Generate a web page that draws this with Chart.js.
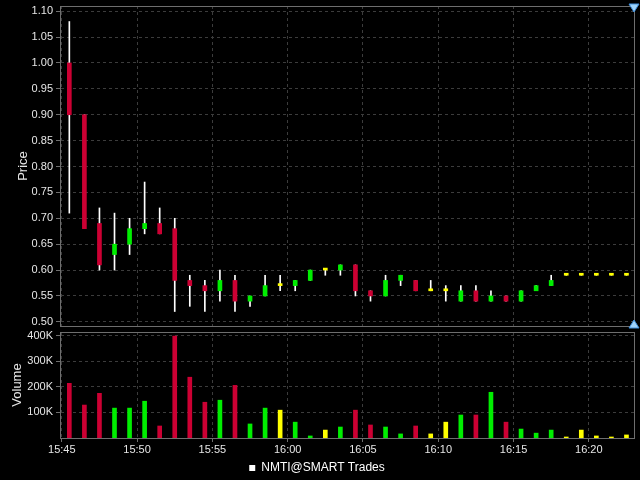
<!DOCTYPE html>
<html>
<head>
<meta charset="utf-8">
<script src="https://cdn.jsdelivr.net/npm/chart.js@4/dist/chart.umd.min.js"></script>
<style>
  html, body { margin: 0; padding: 0; background: #000; overflow: hidden; }
  #wrap { position: relative; width: 640px; height: 480px; background: #000; overflow: hidden; }
  #priceBox { position: absolute; left: 0; top: 0; width: 640px; height: 330px; }
  #volBox { position: absolute; left: 0; top: 330px; width: 640px; height: 154px; }
</style>
</head>
<body>
<div id="wrap">
  <div id="priceBox"><canvas id="priceChart"></canvas></div>
  <div id="volBox"><canvas id="volChart"></canvas></div>
</div>
<script>
// one bar per minute, 15:45 .. 16:22
var times = ['15:45','15:46','15:47','15:48','15:49','15:50','15:51','15:52','15:53','15:54',
             '15:55','15:56','15:57','15:58','15:59','16:00','16:01','16:02','16:03','16:04',
             '16:05','16:06','16:07','16:08','16:09','16:10','16:11','16:12','16:13','16:14',
             '16:15','16:16','16:17','16:18','16:19','16:20','16:21','16:22'];
var opens  = [1.00,0.90,0.69,0.63,0.65,0.68,0.69,0.68,0.58,0.57,
              0.56,0.58,0.54,0.55,0.57,0.57,0.58,0.60,0.60,0.61,
              0.56,0.55,0.58,0.58,0.56,0.56,0.54,0.56,0.54,0.55,
              0.54,0.56,0.57,0.59,0.59,0.59,0.59,0.59];
var highs  = [1.08,0.90,0.72,0.71,0.70,0.77,0.72,0.70,0.59,0.58,
              0.60,0.59,0.55,0.59,0.59,0.58,0.60,0.60,0.61,0.61,
              0.56,0.59,0.59,0.58,0.58,0.57,0.57,0.57,0.56,0.55,
              0.56,0.57,0.59,0.59,0.59,0.59,0.59,0.59];
var lows   = [0.71,0.68,0.60,0.60,0.63,0.67,0.67,0.52,0.53,0.52,
              0.54,0.52,0.53,0.55,0.56,0.56,0.58,0.59,0.59,0.55,
              0.54,0.55,0.57,0.56,0.56,0.54,0.54,0.54,0.54,0.54,
              0.54,0.56,0.57,0.59,0.59,0.59,0.59,0.59];
var closes = [0.90,0.68,0.61,0.65,0.68,0.69,0.67,0.58,0.57,0.56,
              0.58,0.54,0.55,0.57,0.57,0.58,0.60,0.60,0.61,0.56,
              0.55,0.58,0.59,0.56,0.56,0.56,0.56,0.54,0.55,0.54,
              0.56,0.57,0.58,0.59,0.59,0.59,0.59,0.59];
var volumes = [214000,129000,175000,117000,117000,144000,47000,399000,238000,140000,
               148000,206000,55000,117000,109000,62000,8000,31000,43000,109000,
               51000,43000,16000,47000,16000,62000,90000,90000,179000,62000,
               35000,19000,31000,4000,31000,8000,4000,12000];

var priceTicks = [0.50,0.55,0.60,0.65,0.70,0.75,0.80,0.85,0.90,0.95,1.00,1.05,1.10];
var volTicks = [100000,200000,300000,400000];
var volTickLabels = ['100K','200K','300K','400K'];
var timeTickLabels = ['15:45','15:50','15:55','16:00','16:05','16:10','16:15','16:20'];
var seriesName = 'NMTI@SMART Trades';

var RED = '#cc0033', GREEN = '#00ee00', YELLOW = '#ffff00';
var GRID = '#3c3c3c', FRAME = '#6e6e6e', TEXT = '#e6e6e6';

Chart.defaults.font.family = '"Liberation Sans", Arial, sans-serif';
Chart.defaults.font.size = 11;
Chart.defaults.color = TEXT;
Chart.defaults.animation = false;

function toMin(t) {
  var p = t.split(':');
  return (+p[0]) * 60 + (+p[1]) - (15 * 60 + 45);
}
var xs = times.map(function (t) { return toMin(t) + 0.5; });
var colors = opens.map(function (o, i) {
  if (closes[i] > o) return GREEN;
  if (closes[i] < o) return RED;
  return YELLOW;
});
var timeTickVals = timeTickLabels.map(toMin);

function fmtTime(v) {
  var m = 15 * 60 + 45 + Math.round(v);
  var h = Math.floor(m / 60), mm = m % 60;
  return h + ':' + (mm < 10 ? '0' : '') + mm;
}

// no extra room for half labels, layout padding decides the plot box
function noPad(s) {
  s.paddingTop = 0;
  s.paddingBottom = 0;
}

// frame round the plot area, plus the little scroll arrows
var framePlugin = {
  id: 'frame',
  afterDraw: function (chart, args, opts) {
    var a = chart.chartArea, c = chart.ctx;
    c.save();
    c.strokeStyle = FRAME;
    c.lineWidth = 1;
    c.strokeRect(Math.round(a.left) + 0.5, Math.round(a.top) + 0.5,
                 Math.round(a.right - a.left), Math.round(a.bottom - a.top));
    if (opts.arrows) {
      var x = Math.round(a.right);
      c.fillStyle = '#9fd3fb';
      c.strokeStyle = '#3f8fdc';
      c.beginPath();
      c.moveTo(x - 5, 4); c.lineTo(x + 5, 4); c.lineTo(x, 12); c.closePath();
      c.fill(); c.stroke();
      c.beginPath();
      c.moveTo(x - 5, 328); c.lineTo(x + 5, 328); c.lineTo(x, 320); c.closePath();
      c.fill(); c.stroke();
    }
    c.restore();
  }
};

function xScale(showTicks) {
  return {
    type: 'linear',
    min: -0.12,
    max: 38.0,
    offset: false,
    afterBuildTicks: function (s) { s.ticks = timeTickVals.map(function (v) { return { value: v }; }); },
    afterFit: function (s) { s.height = showTicks ? 19 : 0; },
    ticks: { display: showTicks, padding: 1, maxRotation: 0, autoSkip: false,
             callback: function (v) { return fmtTime(v); }, font: { size: 11 } },
    grid: { color: GRID, offset: false, drawTicks: showTicks, tickLength: 4, tickColor: FRAME, tickBorderDash: [] },
    border: { color: FRAME, dash: [3, 3] }
  };
}

var priceCtx = document.getElementById('priceChart').getContext('2d');
var priceChart = new Chart(priceCtx, {
  type: 'bar',
  data: {
    datasets: [
      {
        label: 'body',
        data: xs.map(function (x, i) { return { x: x, y: [opens[i], closes[i]] }; }),
        backgroundColor: colors,
        barThickness: 4,
        minBarLength: 2,
        grouped: false,
        order: 0
      },
      {
        label: 'wick',
        data: xs.map(function (x, i) { return { x: x, y: [lows[i], highs[i]] }; }),
        backgroundColor: '#ffffff',
        barThickness: 1,
        grouped: false,
        order: 1
      }
    ]
  },
  options: {
    responsive: true,
    maintainAspectRatio: false,
    layout: { padding: { top: 6, bottom: 4, right: 6, left: 0 } },
    plugins: { legend: { display: false }, tooltip: { enabled: false }, frame: { arrows: true } },
    scales: {
      x: xScale(false),
      y: {
        min: 0.492,
        max: 1.11,
        afterBuildTicks: function (s) { s.ticks = priceTicks.map(function (v) { return { value: v }; }); },
        afterFit: function (s) { s.width = 60; noPad(s); },
        ticks: { padding: 3, callback: function (v) { return v.toFixed(2); } },
        grid: { color: GRID, tickLength: 4, tickColor: FRAME, tickBorderDash: [] },
        border: { color: FRAME, dash: [3, 3] },
        title: { display: true, text: 'Price', font: { size: 13 }, padding: { top: 16, bottom: 0 } }
      }
    }
  },
  plugins: [framePlugin]
});

var volCtx = document.getElementById('volChart').getContext('2d');
var volChart = new Chart(volCtx, {
  type: 'bar',
  data: {
    datasets: [
      {
        label: seriesName,
        data: xs.map(function (x, i) { return { x: x, y: volumes[i] }; }),
        backgroundColor: colors,
        barThickness: 4,
        grouped: false
      }
    ]
  },
  options: {
    responsive: true,
    maintainAspectRatio: false,
    layout: { padding: { top: 2, bottom: 0, right: 6, left: 0 } },
    plugins: {
      tooltip: { enabled: false },
      frame: { arrows: false },
      legend: {
        display: true,
        position: 'bottom',
        labels: {
          color: '#ffffff',
          font: { size: 12 },
          padding: 5,
          usePointStyle: true,
          pointStyle: 'rect',
          boxWidth: 6,
          boxHeight: 6,
          generateLabels: function () {
            return [{ text: seriesName, fillStyle: '#ffffff', strokeStyle: '#ffffff', lineWidth: 0,
                      pointStyle: 'rect', fontColor: '#ffffff', datasetIndex: 0 }];
          }
        }
      }
    },
    scales: {
      x: xScale(true),
      y: {
        min: 0,
        max: 415000,
        afterBuildTicks: function (s) { s.ticks = volTicks.map(function (v) { return { value: v }; }); },
        afterFit: function (s) { s.width = 60; noPad(s); },
        ticks: { padding: 3, callback: function (v) { return volTickLabels[volTicks.indexOf(v)]; } },
        grid: { color: GRID, tickLength: 4, tickColor: FRAME, tickBorderDash: [] },
        border: { color: FRAME, dash: [3, 3] },
        title: { display: true, text: 'Volume', font: { size: 13 }, padding: { top: 10, bottom: 0 } }
      }
    }
  },
  plugins: [framePlugin]
});
</script>
</body>
</html>
